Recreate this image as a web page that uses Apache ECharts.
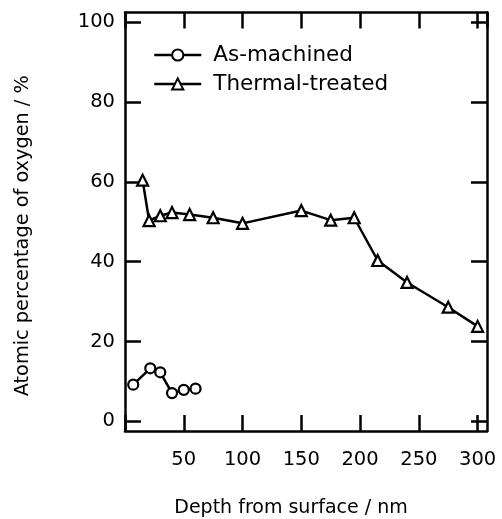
<!DOCTYPE html>
<html>
<head>
<meta charset="utf-8">
<script src="https://cdn.jsdelivr.net/npm/echarts@6/dist/echarts.min.js"></script>
<style>
  html, body { margin: 0; padding: 0; background: #fff; }
  #chart { width: 502px; height: 519px; }
</style>
</head>
<body>
<div id="chart"></div>
<script>
// depth (nm) and oxygen at%
var asMachinedDepth = [7, 21.5, 30, 40, 50, 60];
var asMachinedO = [9.2, 13.3, 12.3, 7.1, 7.9, 8.2];

var thermalDepth = [15, 20.5, 30, 40, 55, 75, 100, 150, 175, 195, 215, 240, 275, 300];
var thermalO = [60.4, 50.3, 51.5, 52.3, 51.8, 51, 49.6, 52.8, 50.4, 51, 40.3, 34.8, 28.6, 23.8];

var yTicks = [0, 20, 40, 60, 80, 100];
var seriesNames = ['As-machined', 'Thermal-treated'];

function pairs(xs, ys) {
  return xs.map(function (x, i) { return [x, ys[i]]; });
}

var font = 'DejaVu Sans';
var axisLine = { show: true, onZero: false, lineStyle: { color: '#000', width: 2.5 } };
var tick = { show: true, inside: true, length: 16, lineStyle: { color: '#000', width: 2.5 } };
var yTick = { show: true, inside: true, length: 16, lineStyle: { color: '#000', width: 2.5 }, customValues: yTicks };

var chart = echarts.init(document.getElementById('chart'));
chart.setOption({
  animation: false,
  textStyle: { fontFamily: font },
  grid: { left: 125, right: 15, top: 12.5, bottom: 88, outerBoundsMode: 'none', containLabel: false },
  legend: {
    left: 148,
    top: 39,
    orient: 'vertical',
    itemWidth: 47,
    itemHeight: 14,
    itemGap: 7,
    lineStyle: { width: 2.5 },
    textStyle: { fontFamily: font, fontSize: 21.5, color: '#000', padding: [0, 0, 0, 7] },
    data: seriesNames
  },
  xAxis: [{
    type: 'value',
    min: 0, max: 308, interval: 50,
    name: 'Depth from surface / nm',
    nameLocation: 'middle',
    nameGap: 68,
    nameTextStyle: { fontFamily: font, fontSize: 19, color: '#000', padding: [0, 30, 0, 0] },
    axisLine: axisLine,
    axisTick: tick,
    splitLine: { show: false },
    axisLabel: {
      fontFamily: font, fontSize: 19.5, color: '#000', margin: 19,
      formatter: function (v) { return v === 0 ? '' : v; }
    }
  }, {
    type: 'value', position: 'top',
    min: 0, max: 308, interval: 50,
    axisLine: axisLine, axisTick: tick,
    splitLine: { show: false }, axisLabel: { show: false }
  }],
  yAxis: [{
    type: 'value',
    min: -2.4, max: 102.4,
    name: 'Atomic percentage of oxygen / %',
    nameLocation: 'middle',
    nameGap: 93,
    nameTextStyle: { fontFamily: font, fontSize: 19.3, color: '#000', padding: [0, 28, 0, 0] },
    axisLine: axisLine,
    axisTick: yTick,
    splitLine: { show: false },
    axisLabel: { fontFamily: font, fontSize: 19.5, color: '#000', margin: 10, customValues: yTicks }
  }, {
    type: 'value', position: 'right',
    min: -2.4, max: 102.4,
    axisLine: axisLine,
    axisTick: yTick,
    splitLine: { show: false }, axisLabel: { show: false }
  }],
  series: [{
    name: seriesNames[0],
    type: 'line',
    data: pairs(asMachinedDepth, asMachinedO),
    symbol: 'circle',
    symbolSize: 10,
    showAllSymbol: true,
    lineStyle: { color: '#000', width: 2.5 },
    itemStyle: { color: '#fff', borderColor: '#000', borderWidth: 2.2 }
  }, {
    name: seriesNames[1],
    type: 'line',
    data: pairs(thermalDepth, thermalO),
    symbol: 'triangle',
    symbolSize: 11,
    showAllSymbol: true,
    lineStyle: { color: '#000', width: 2.5 },
    itemStyle: { color: '#fff', borderColor: '#000', borderWidth: 2.2 }
  }]
});
</script>
</body>
</html>
